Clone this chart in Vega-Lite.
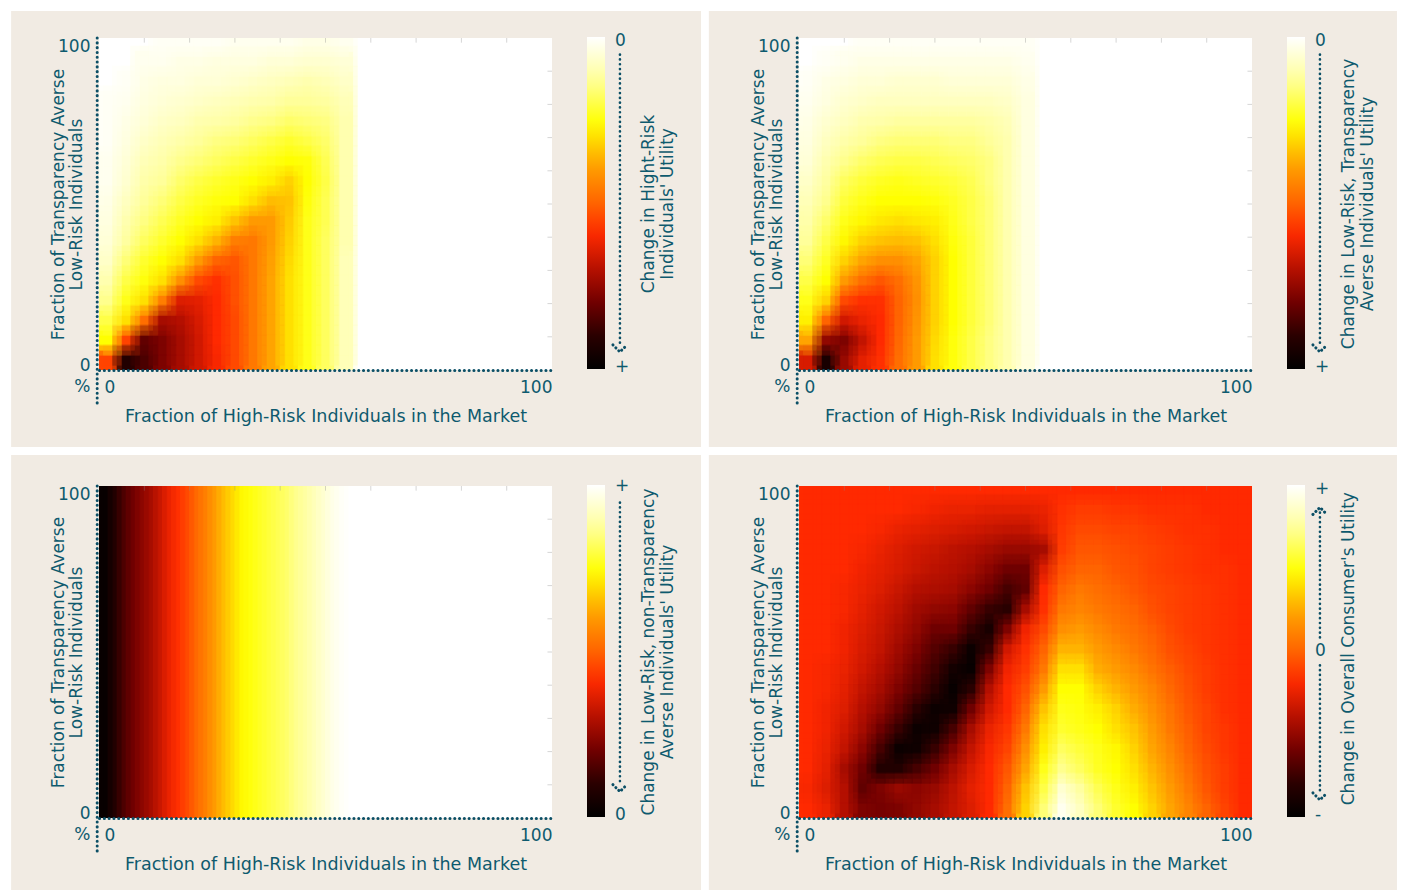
{"$schema":"https://vega.github.io/schema/vega-lite/v6.json","padding":{"left":11,"top":11,"right":0,"bottom":0},"background":"white","columns":2,"spacing":{"row":7,"column":6},"resolve":{"scale":{"color":"independent"},"legend":{"color":"independent"}},
"config":{"view":{"stroke":null},"font":"DejaVu Sans","axis":{"labelFont":"DejaVu Sans","titleFont":"DejaVu Sans","labelFontSize":17,"titleFontSize":17,"titleFontWeight":"normal","labelColor":"#0e5a6e","titleColor":"#0e5a6e","ticks":false,"grid":false,"labelFlush":true,"domainColor":"#0b4f66","domainDash":[0.1,4.7],"domainCap":"round","domainWidth":3}},
"datasets":{"t":[{"t":10},{"t":20},{"t":30},{"t":40},{"t":50},{"t":60},{"t":70},{"t":80},{"t":90}],
"p1":[{"x":2,"y":3,"v":45},{"x":2,"y":9,"v":74},{"x":2,"y":15,"v":80},{"x":2,"y":21,"v":86},{"x":2,"y":27,"v":90},{"x":2,"y":33,"v":93},{"x":2,"y":39,"v":95},{"x":2,"y":45,"v":96},{"x":2,"y":51,"v":97},{"x":2,"y":57,"v":98},{"x":2,"y":63,"v":98},{"x":2,"y":69,"v":99},{"x":2,"y":75,"v":99},{"x":2,"y":81,"v":99},
{"x":6,"y":3,"v":8},{"x":6,"y":9,"v":45},{"x":6,"y":15,"v":70},{"x":6,"y":21,"v":76},{"x":6,"y":27,"v":80},{"x":6,"y":33,"v":84},{"x":6,"y":39,"v":88},{"x":6,"y":45,"v":90},{"x":6,"y":51,"v":92},{"x":6,"y":57,"v":94},{"x":6,"y":63,"v":95},{"x":6,"y":69,"v":96},{"x":6,"y":75,"v":97},{"x":6,"y":81,"v":98},{"x":6,"y":87,"v":99},
{"x":10,"y":3,"v":15},{"x":10,"y":9,"v":18},{"x":10,"y":15,"v":52},{"x":10,"y":21,"v":70},{"x":10,"y":27,"v":75},{"x":10,"y":33,"v":78},{"x":10,"y":39,"v":82},{"x":10,"y":45,"v":85},{"x":10,"y":51,"v":87},{"x":10,"y":57,"v":89},{"x":10,"y":63,"v":91},{"x":10,"y":69,"v":93},{"x":10,"y":75,"v":95},{"x":10,"y":81,"v":96},{"x":10,"y":87,"v":97},{"x":10,"y":93,"v":98},
{"x":14,"y":3,"v":22},{"x":14,"y":9,"v":22},{"x":14,"y":15,"v":28},{"x":14,"y":21,"v":55},{"x":14,"y":27,"v":70},{"x":14,"y":33,"v":74},{"x":14,"y":39,"v":78},{"x":14,"y":45,"v":81},{"x":14,"y":51,"v":84},{"x":14,"y":57,"v":87},{"x":14,"y":63,"v":89},{"x":14,"y":69,"v":91},{"x":14,"y":75,"v":93},{"x":14,"y":81,"v":95},{"x":14,"y":87,"v":96},{"x":14,"y":93,"v":98},{"x":14,"y":99,"v":99},
{"x":18,"y":3,"v":28},{"x":18,"y":9,"v":28},{"x":18,"y":15,"v":30},{"x":18,"y":21,"v":36},{"x":18,"y":27,"v":58},{"x":18,"y":33,"v":70},{"x":18,"y":39,"v":74},{"x":18,"y":45,"v":77},{"x":18,"y":51,"v":80},{"x":18,"y":57,"v":83},{"x":18,"y":63,"v":86},{"x":18,"y":69,"v":89},{"x":18,"y":75,"v":92},{"x":18,"y":81,"v":94},{"x":18,"y":87,"v":96},{"x":18,"y":93,"v":97},{"x":18,"y":99,"v":99},
{"x":22,"y":3,"v":34},{"x":22,"y":9,"v":34},{"x":22,"y":15,"v":35},{"x":22,"y":21,"v":37},{"x":22,"y":27,"v":46},{"x":22,"y":33,"v":60},{"x":22,"y":39,"v":70},{"x":22,"y":45,"v":74},{"x":22,"y":51,"v":77},{"x":22,"y":57,"v":80},{"x":22,"y":63,"v":84},{"x":22,"y":69,"v":87},{"x":22,"y":75,"v":90},{"x":22,"y":81,"v":93},{"x":22,"y":87,"v":95},{"x":22,"y":93,"v":97},{"x":22,"y":99,"v":99},
{"x":26,"y":3,"v":40},{"x":26,"y":9,"v":41},{"x":26,"y":15,"v":41},{"x":26,"y":21,"v":41},{"x":26,"y":27,"v":42},{"x":26,"y":33,"v":50},{"x":26,"y":39,"v":64},{"x":26,"y":45,"v":72},{"x":26,"y":51,"v":75},{"x":26,"y":57,"v":78},{"x":26,"y":63,"v":82},{"x":26,"y":69,"v":85},{"x":26,"y":75,"v":89},{"x":26,"y":81,"v":92},{"x":26,"y":87,"v":95},{"x":26,"y":93,"v":96},{"x":26,"y":99,"v":99},
{"x":30,"y":3,"v":46},{"x":30,"y":9,"v":46},{"x":30,"y":15,"v":46},{"x":30,"y":21,"v":47},{"x":30,"y":27,"v":47},{"x":30,"y":33,"v":48},{"x":30,"y":39,"v":55},{"x":30,"y":45,"v":66},{"x":30,"y":51,"v":74},{"x":30,"y":57,"v":76},{"x":30,"y":63,"v":80},{"x":30,"y":69,"v":84},{"x":30,"y":75,"v":88},{"x":30,"y":81,"v":91},{"x":30,"y":87,"v":94},{"x":30,"y":93,"v":96},{"x":30,"y":99,"v":98},
{"x":34,"y":3,"v":54},{"x":34,"y":9,"v":54},{"x":34,"y":15,"v":54},{"x":34,"y":21,"v":54},{"x":34,"y":27,"v":54},{"x":34,"y":33,"v":54},{"x":34,"y":39,"v":54},{"x":34,"y":45,"v":60},{"x":34,"y":51,"v":70},{"x":34,"y":57,"v":74},{"x":34,"y":63,"v":78},{"x":34,"y":69,"v":82},{"x":34,"y":75,"v":86},{"x":34,"y":81,"v":90},{"x":34,"y":87,"v":93},{"x":34,"y":93,"v":96},{"x":34,"y":99,"v":98},
{"x":38,"y":3,"v":62},{"x":38,"y":9,"v":62},{"x":38,"y":15,"v":62},{"x":38,"y":21,"v":62},{"x":38,"y":27,"v":62},{"x":38,"y":33,"v":61},{"x":38,"y":39,"v":60},{"x":38,"y":45,"v":60},{"x":38,"y":51,"v":65},{"x":38,"y":57,"v":72},{"x":38,"y":63,"v":76},{"x":38,"y":69,"v":80},{"x":38,"y":75,"v":85},{"x":38,"y":81,"v":89},{"x":38,"y":87,"v":92},{"x":38,"y":93,"v":95},{"x":38,"y":99,"v":98},
{"x":42,"y":3,"v":70},{"x":42,"y":9,"v":70},{"x":42,"y":15,"v":70},{"x":42,"y":21,"v":70},{"x":42,"y":27,"v":70},{"x":42,"y":33,"v":69},{"x":42,"y":39,"v":68},{"x":42,"y":45,"v":67},{"x":42,"y":51,"v":66},{"x":42,"y":57,"v":68},{"x":42,"y":63,"v":74},{"x":42,"y":69,"v":78},{"x":42,"y":75,"v":83},{"x":42,"y":81,"v":87},{"x":42,"y":87,"v":91},{"x":42,"y":93,"v":95},{"x":42,"y":99,"v":98},
{"x":46,"y":3,"v":76},{"x":46,"y":9,"v":76},{"x":46,"y":15,"v":76},{"x":46,"y":21,"v":76},{"x":46,"y":27,"v":76},{"x":46,"y":33,"v":76},{"x":46,"y":39,"v":76},{"x":46,"y":45,"v":76},{"x":46,"y":51,"v":75},{"x":46,"y":57,"v":74},{"x":46,"y":63,"v":75},{"x":46,"y":69,"v":80},{"x":46,"y":75,"v":84},{"x":46,"y":81,"v":87},{"x":46,"y":87,"v":90},{"x":46,"y":93,"v":94},{"x":46,"y":99,"v":97},
{"x":50,"y":3,"v":82},{"x":50,"y":9,"v":82},{"x":50,"y":15,"v":82},{"x":50,"y":21,"v":82},{"x":50,"y":27,"v":82},{"x":50,"y":33,"v":82},{"x":50,"y":39,"v":82},{"x":50,"y":45,"v":81},{"x":50,"y":51,"v":81},{"x":50,"y":57,"v":80},{"x":50,"y":63,"v":81},{"x":50,"y":69,"v":83},{"x":50,"y":75,"v":85},{"x":50,"y":81,"v":88},{"x":50,"y":87,"v":91},{"x":50,"y":93,"v":94},{"x":50,"y":99,"v":97},
{"x":54,"y":3,"v":91},{"x":54,"y":9,"v":91},{"x":54,"y":15,"v":91},{"x":54,"y":21,"v":91},{"x":54,"y":27,"v":91},{"x":54,"y":33,"v":91},{"x":54,"y":39,"v":90},{"x":54,"y":45,"v":90},{"x":54,"y":51,"v":90},{"x":54,"y":57,"v":90},{"x":54,"y":63,"v":90},{"x":54,"y":69,"v":90},{"x":54,"y":75,"v":90},{"x":54,"y":81,"v":91},{"x":54,"y":87,"v":93},{"x":54,"y":93,"v":95},{"x":54,"y":99,"v":98}],
"p2":[{"x":2,"y":3,"v":35},{"x":2,"y":9,"v":62},{"x":2,"y":15,"v":72},{"x":2,"y":21,"v":76},{"x":2,"y":27,"v":80},{"x":2,"y":33,"v":84},{"x":2,"y":39,"v":87},{"x":2,"y":45,"v":89},{"x":2,"y":51,"v":91},{"x":2,"y":57,"v":93},{"x":2,"y":63,"v":95},{"x":2,"y":69,"v":96},{"x":2,"y":75,"v":97},{"x":2,"y":81,"v":98},{"x":2,"y":87,"v":99},
{"x":6,"y":3,"v":6},{"x":6,"y":9,"v":25},{"x":6,"y":15,"v":50},{"x":6,"y":21,"v":68},{"x":6,"y":27,"v":74},{"x":6,"y":33,"v":77},{"x":6,"y":39,"v":80},{"x":6,"y":45,"v":83},{"x":6,"y":51,"v":86},{"x":6,"y":57,"v":88},{"x":6,"y":63,"v":90},{"x":6,"y":69,"v":92},{"x":6,"y":75,"v":94},{"x":6,"y":81,"v":96},{"x":6,"y":87,"v":97},{"x":6,"y":93,"v":99},
{"x":10,"y":3,"v":26},{"x":10,"y":9,"v":22},{"x":10,"y":15,"v":34},{"x":10,"y":21,"v":46},{"x":10,"y":27,"v":60},{"x":10,"y":33,"v":68},{"x":10,"y":39,"v":73},{"x":10,"y":45,"v":76},{"x":10,"y":51,"v":79},{"x":10,"y":57,"v":82},{"x":10,"y":63,"v":86},{"x":10,"y":69,"v":89},{"x":10,"y":75,"v":92},{"x":10,"y":81,"v":94},{"x":10,"y":87,"v":96},{"x":10,"y":93,"v":98},
{"x":14,"y":3,"v":37},{"x":14,"y":9,"v":32},{"x":14,"y":15,"v":38},{"x":14,"y":21,"v":42},{"x":14,"y":27,"v":52},{"x":14,"y":33,"v":62},{"x":14,"y":39,"v":68},{"x":14,"y":45,"v":73},{"x":14,"y":51,"v":76},{"x":14,"y":57,"v":79},{"x":14,"y":63,"v":83},{"x":14,"y":69,"v":87},{"x":14,"y":75,"v":90},{"x":14,"y":81,"v":93},{"x":14,"y":87,"v":95},{"x":14,"y":93,"v":97},{"x":14,"y":99,"v":99},
{"x":18,"y":3,"v":42},{"x":18,"y":9,"v":41},{"x":18,"y":15,"v":41},{"x":18,"y":21,"v":42},{"x":18,"y":27,"v":48},{"x":18,"y":33,"v":58},{"x":18,"y":39,"v":66},{"x":18,"y":45,"v":71},{"x":18,"y":51,"v":74},{"x":18,"y":57,"v":77},{"x":18,"y":63,"v":81},{"x":18,"y":69,"v":85},{"x":18,"y":75,"v":89},{"x":18,"y":81,"v":92},{"x":18,"y":87,"v":95},{"x":18,"y":93,"v":97},{"x":18,"y":99,"v":99},
{"x":22,"y":3,"v":52},{"x":22,"y":9,"v":51},{"x":22,"y":15,"v":50},{"x":22,"y":21,"v":50},{"x":22,"y":27,"v":52},{"x":22,"y":33,"v":58},{"x":22,"y":39,"v":65},{"x":22,"y":45,"v":70},{"x":22,"y":51,"v":74},{"x":22,"y":57,"v":76},{"x":22,"y":63,"v":80},{"x":22,"y":69,"v":84},{"x":22,"y":75,"v":88},{"x":22,"y":81,"v":92},{"x":22,"y":87,"v":94},{"x":22,"y":93,"v":97},{"x":22,"y":99,"v":99},
{"x":26,"y":3,"v":60},{"x":26,"y":9,"v":60},{"x":26,"y":15,"v":59},{"x":26,"y":21,"v":58},{"x":26,"y":27,"v":59},{"x":26,"y":33,"v":62},{"x":26,"y":39,"v":66},{"x":26,"y":45,"v":71},{"x":26,"y":51,"v":74},{"x":26,"y":57,"v":77},{"x":26,"y":63,"v":80},{"x":26,"y":69,"v":84},{"x":26,"y":75,"v":88},{"x":26,"y":81,"v":92},{"x":26,"y":87,"v":94},{"x":26,"y":93,"v":97},{"x":26,"y":99,"v":99},
{"x":30,"y":3,"v":70},{"x":30,"y":9,"v":69},{"x":30,"y":15,"v":68},{"x":30,"y":21,"v":68},{"x":30,"y":27,"v":68},{"x":30,"y":33,"v":68},{"x":30,"y":39,"v":70},{"x":30,"y":45,"v":72},{"x":30,"y":51,"v":75},{"x":30,"y":57,"v":78},{"x":30,"y":63,"v":81},{"x":30,"y":69,"v":84},{"x":30,"y":75,"v":88},{"x":30,"y":81,"v":92},{"x":30,"y":87,"v":94},{"x":30,"y":93,"v":97},{"x":30,"y":99,"v":99},
{"x":34,"y":3,"v":75},{"x":34,"y":9,"v":75},{"x":34,"y":15,"v":74},{"x":34,"y":21,"v":74},{"x":34,"y":27,"v":74},{"x":34,"y":33,"v":74},{"x":34,"y":39,"v":75},{"x":34,"y":45,"v":76},{"x":34,"y":51,"v":77},{"x":34,"y":57,"v":79},{"x":34,"y":63,"v":82},{"x":34,"y":69,"v":85},{"x":34,"y":75,"v":88},{"x":34,"y":81,"v":92},{"x":34,"y":87,"v":95},{"x":34,"y":93,"v":97},{"x":34,"y":99,"v":99},
{"x":38,"y":3,"v":80},{"x":38,"y":9,"v":80},{"x":38,"y":15,"v":79},{"x":38,"y":21,"v":79},{"x":38,"y":27,"v":79},{"x":38,"y":33,"v":79},{"x":38,"y":39,"v":79},{"x":38,"y":45,"v":80},{"x":38,"y":51,"v":80},{"x":38,"y":57,"v":81},{"x":38,"y":63,"v":83},{"x":38,"y":69,"v":85},{"x":38,"y":75,"v":88},{"x":38,"y":81,"v":92},{"x":38,"y":87,"v":95},{"x":38,"y":93,"v":97},{"x":38,"y":99,"v":99},
{"x":42,"y":3,"v":85},{"x":42,"y":9,"v":85},{"x":42,"y":15,"v":84},{"x":42,"y":21,"v":84},{"x":42,"y":27,"v":84},{"x":42,"y":33,"v":84},{"x":42,"y":39,"v":84},{"x":42,"y":45,"v":84},{"x":42,"y":51,"v":84},{"x":42,"y":57,"v":85},{"x":42,"y":63,"v":85},{"x":42,"y":69,"v":87},{"x":42,"y":75,"v":89},{"x":42,"y":81,"v":92},{"x":42,"y":87,"v":95},{"x":42,"y":93,"v":97},{"x":42,"y":99,"v":99},
{"x":46,"y":3,"v":90},{"x":46,"y":9,"v":90},{"x":46,"y":15,"v":90},{"x":46,"y":21,"v":90},{"x":46,"y":27,"v":90},{"x":46,"y":33,"v":90},{"x":46,"y":39,"v":90},{"x":46,"y":45,"v":90},{"x":46,"y":51,"v":90},{"x":46,"y":57,"v":90},{"x":46,"y":63,"v":90},{"x":46,"y":69,"v":90},{"x":46,"y":75,"v":91},{"x":46,"y":81,"v":93},{"x":46,"y":87,"v":95},{"x":46,"y":93,"v":97},{"x":46,"y":99,"v":99},
{"x":50,"y":3,"v":96},{"x":50,"y":9,"v":96},{"x":50,"y":15,"v":96},{"x":50,"y":21,"v":96},{"x":50,"y":27,"v":96},{"x":50,"y":33,"v":96},{"x":50,"y":39,"v":96},{"x":50,"y":45,"v":96},{"x":50,"y":51,"v":96},{"x":50,"y":57,"v":96},{"x":50,"y":63,"v":96},{"x":50,"y":69,"v":96},{"x":50,"y":75,"v":96},{"x":50,"y":81,"v":96},{"x":50,"y":87,"v":97},{"x":50,"y":93,"v":98},{"x":50,"y":99,"v":99}],
"p3":[{"x":1,"v":2},{"x":3,"v":8},{"x":5,"v":15},{"x":7,"v":20},{"x":9,"v":24},{"x":11,"v":28},{"x":13,"v":33},{"x":15,"v":38},{"x":17,"v":42},{"x":19,"v":46},{"x":21,"v":51},{"x":23,"v":55},{"x":25,"v":60},{"x":27,"v":65},{"x":29,"v":69},{"x":31,"v":73},{"x":33,"v":75},{"x":35,"v":77},{"x":37,"v":79},{"x":39,"v":81},{"x":41,"v":83},{"x":43,"v":86},{"x":45,"v":88},{"x":47,"v":91},{"x":49,"v":94},{"x":51,"v":97},{"x":53,"v":99}],
"p4":[{"x":2,"y":3,"v":41},{"x":6,"y":3,"v":38},{"x":10,"y":3,"v":30},{"x":14,"y":3,"v":22},{"x":18,"y":3,"v":21},{"x":22,"y":3,"v":22},{"x":26,"y":3,"v":25},{"x":30,"y":3,"v":28},{"x":34,"y":3,"v":32},{"x":38,"y":3,"v":36},{"x":42,"y":3,"v":41},{"x":46,"y":3,"v":52},{"x":50,"y":3,"v":68},{"x":54,"y":3,"v":84},{"x":58,"y":3,"v":98},{"x":62,"y":3,"v":92},{"x":66,"y":3,"v":84},{"x":70,"y":3,"v":78},{"x":74,"y":3,"v":74},{"x":78,"y":3,"v":68},{"x":82,"y":3,"v":62},{"x":86,"y":3,"v":56},{"x":90,"y":3,"v":50},{"x":94,"y":3,"v":45},{"x":98,"y":3,"v":41},
{"x":2,"y":9,"v":40},{"x":6,"y":9,"v":36},{"x":10,"y":9,"v":30},{"x":14,"y":9,"v":18},{"x":18,"y":9,"v":22},{"x":22,"y":9,"v":26},{"x":26,"y":9,"v":24},{"x":30,"y":9,"v":26},{"x":34,"y":9,"v":31},{"x":38,"y":9,"v":37},{"x":42,"y":9,"v":41},{"x":46,"y":9,"v":50},{"x":50,"y":9,"v":66},{"x":54,"y":9,"v":80},{"x":58,"y":9,"v":94},{"x":62,"y":9,"v":88},{"x":66,"y":9,"v":81},{"x":70,"y":9,"v":76},{"x":74,"y":9,"v":72},{"x":78,"y":9,"v":66},{"x":82,"y":9,"v":60},{"x":86,"y":9,"v":54},{"x":90,"y":9,"v":48},{"x":94,"y":9,"v":44},{"x":98,"y":9,"v":41},
{"x":2,"y":15,"v":41},{"x":6,"y":15,"v":37},{"x":10,"y":15,"v":28},{"x":14,"y":15,"v":20},{"x":18,"y":15,"v":8},{"x":22,"y":15,"v":8},{"x":26,"y":15,"v":14},{"x":30,"y":15,"v":20},{"x":34,"y":15,"v":28},{"x":38,"y":15,"v":35},{"x":42,"y":15,"v":41},{"x":46,"y":15,"v":48},{"x":50,"y":15,"v":62},{"x":54,"y":15,"v":76},{"x":58,"y":15,"v":86},{"x":62,"y":15,"v":82},{"x":66,"y":15,"v":77},{"x":70,"y":15,"v":74},{"x":74,"y":15,"v":70},{"x":78,"y":15,"v":64},{"x":82,"y":15,"v":58},{"x":86,"y":15,"v":52},{"x":90,"y":15,"v":47},{"x":94,"y":15,"v":44},{"x":98,"y":15,"v":41},
{"x":2,"y":21,"v":41},{"x":6,"y":21,"v":38},{"x":10,"y":21,"v":32},{"x":14,"y":21,"v":24},{"x":18,"y":21,"v":14},{"x":22,"y":21,"v":3},{"x":26,"y":21,"v":4},{"x":30,"y":21,"v":12},{"x":34,"y":21,"v":22},{"x":38,"y":21,"v":32},{"x":42,"y":21,"v":40},{"x":46,"y":21,"v":45},{"x":50,"y":21,"v":58},{"x":54,"y":21,"v":72},{"x":58,"y":21,"v":82},{"x":62,"y":21,"v":79},{"x":66,"y":21,"v":76},{"x":70,"y":21,"v":73},{"x":74,"y":21,"v":68},{"x":78,"y":21,"v":62},{"x":82,"y":21,"v":56},{"x":86,"y":21,"v":50},{"x":90,"y":21,"v":46},{"x":94,"y":21,"v":43},{"x":98,"y":21,"v":41},
{"x":2,"y":27,"v":41},{"x":6,"y":27,"v":39},{"x":10,"y":27,"v":34},{"x":14,"y":27,"v":28},{"x":18,"y":27,"v":20},{"x":22,"y":27,"v":12},{"x":26,"y":27,"v":3},{"x":30,"y":27,"v":4},{"x":34,"y":27,"v":14},{"x":38,"y":27,"v":28},{"x":42,"y":27,"v":38},{"x":46,"y":27,"v":43},{"x":50,"y":27,"v":54},{"x":54,"y":27,"v":70},{"x":58,"y":27,"v":78},{"x":62,"y":27,"v":76},{"x":66,"y":27,"v":74},{"x":70,"y":27,"v":70},{"x":74,"y":27,"v":66},{"x":78,"y":27,"v":60},{"x":82,"y":27,"v":54},{"x":86,"y":27,"v":49},{"x":90,"y":27,"v":45},{"x":94,"y":27,"v":43},{"x":98,"y":27,"v":41},
{"x":2,"y":33,"v":41},{"x":6,"y":33,"v":39},{"x":10,"y":33,"v":36},{"x":14,"y":33,"v":30},{"x":18,"y":33,"v":25},{"x":22,"y":33,"v":18},{"x":26,"y":33,"v":10},{"x":30,"y":33,"v":3},{"x":34,"y":33,"v":4},{"x":38,"y":33,"v":20},{"x":42,"y":33,"v":34},{"x":46,"y":33,"v":41},{"x":50,"y":33,"v":50},{"x":54,"y":33,"v":66},{"x":58,"y":33,"v":76},{"x":62,"y":33,"v":75},{"x":66,"y":33,"v":72},{"x":70,"y":33,"v":68},{"x":74,"y":33,"v":63},{"x":78,"y":33,"v":58},{"x":82,"y":33,"v":53},{"x":86,"y":33,"v":48},{"x":90,"y":33,"v":45},{"x":94,"y":33,"v":42},{"x":98,"y":33,"v":41},
{"x":2,"y":39,"v":41},{"x":6,"y":39,"v":40},{"x":10,"y":39,"v":37},{"x":14,"y":39,"v":32},{"x":18,"y":39,"v":28},{"x":22,"y":39,"v":22},{"x":26,"y":39,"v":16},{"x":30,"y":39,"v":10},{"x":34,"y":39,"v":2},{"x":38,"y":39,"v":10},{"x":42,"y":39,"v":30},{"x":46,"y":39,"v":41},{"x":50,"y":39,"v":47},{"x":54,"y":39,"v":60},{"x":58,"y":39,"v":74},{"x":62,"y":39,"v":74},{"x":66,"y":39,"v":68},{"x":70,"y":39,"v":64},{"x":74,"y":39,"v":60},{"x":78,"y":39,"v":56},{"x":82,"y":39,"v":51},{"x":86,"y":39,"v":47},{"x":90,"y":39,"v":44},{"x":94,"y":39,"v":42},{"x":98,"y":39,"v":41},
{"x":2,"y":45,"v":41},{"x":6,"y":45,"v":40},{"x":10,"y":45,"v":38},{"x":14,"y":45,"v":34},{"x":18,"y":45,"v":30},{"x":22,"y":45,"v":25},{"x":26,"y":45,"v":19},{"x":30,"y":45,"v":13},{"x":34,"y":45,"v":5},{"x":38,"y":45,"v":2},{"x":42,"y":45,"v":22},{"x":46,"y":45,"v":39},{"x":50,"y":45,"v":44},{"x":54,"y":45,"v":54},{"x":58,"y":45,"v":70},{"x":62,"y":45,"v":70},{"x":66,"y":45,"v":63},{"x":70,"y":45,"v":60},{"x":74,"y":45,"v":57},{"x":78,"y":45,"v":53},{"x":82,"y":45,"v":49},{"x":86,"y":45,"v":46},{"x":90,"y":45,"v":44},{"x":94,"y":45,"v":42},{"x":98,"y":45,"v":41},
{"x":2,"y":51,"v":41},{"x":6,"y":51,"v":41},{"x":10,"y":51,"v":39},{"x":14,"y":51,"v":35},{"x":18,"y":51,"v":32},{"x":22,"y":51,"v":27},{"x":26,"y":51,"v":22},{"x":30,"y":51,"v":16},{"x":34,"y":51,"v":12},{"x":38,"y":51,"v":3},{"x":42,"y":51,"v":12},{"x":46,"y":51,"v":34},{"x":50,"y":51,"v":42},{"x":54,"y":51,"v":50},{"x":58,"y":51,"v":64},{"x":62,"y":51,"v":64},{"x":66,"y":51,"v":60},{"x":70,"y":51,"v":57},{"x":74,"y":51,"v":54},{"x":78,"y":51,"v":51},{"x":82,"y":51,"v":47},{"x":86,"y":51,"v":45},{"x":90,"y":51,"v":43},{"x":94,"y":51,"v":42},{"x":98,"y":51,"v":41},
{"x":2,"y":57,"v":41},{"x":6,"y":57,"v":41},{"x":10,"y":57,"v":39},{"x":14,"y":57,"v":36},{"x":18,"y":57,"v":33},{"x":22,"y":57,"v":29},{"x":26,"y":57,"v":25},{"x":30,"y":57,"v":20},{"x":34,"y":57,"v":20},{"x":38,"y":57,"v":12},{"x":42,"y":57,"v":6},{"x":46,"y":57,"v":22},{"x":50,"y":57,"v":39},{"x":54,"y":57,"v":46},{"x":58,"y":57,"v":58},{"x":62,"y":57,"v":60},{"x":66,"y":57,"v":57},{"x":70,"y":57,"v":54},{"x":74,"y":57,"v":52},{"x":78,"y":57,"v":49},{"x":82,"y":57,"v":46},{"x":86,"y":57,"v":44},{"x":90,"y":57,"v":43},{"x":94,"y":57,"v":42},{"x":98,"y":57,"v":41},
{"x":2,"y":63,"v":41},{"x":6,"y":63,"v":41},{"x":10,"y":63,"v":40},{"x":14,"y":63,"v":37},{"x":18,"y":63,"v":34},{"x":22,"y":63,"v":31},{"x":26,"y":63,"v":27},{"x":30,"y":63,"v":25},{"x":34,"y":63,"v":24},{"x":38,"y":63,"v":18},{"x":42,"y":63,"v":12},{"x":46,"y":63,"v":10},{"x":50,"y":63,"v":28},{"x":54,"y":63,"v":42},{"x":58,"y":63,"v":54},{"x":62,"y":63,"v":56},{"x":66,"y":63,"v":54},{"x":70,"y":63,"v":52},{"x":74,"y":63,"v":50},{"x":78,"y":63,"v":47},{"x":82,"y":63,"v":45},{"x":86,"y":63,"v":44},{"x":90,"y":63,"v":43},{"x":94,"y":63,"v":42},{"x":98,"y":63,"v":41},
{"x":2,"y":69,"v":41},{"x":6,"y":69,"v":41},{"x":10,"y":69,"v":40},{"x":14,"y":69,"v":38},{"x":18,"y":69,"v":36},{"x":22,"y":69,"v":33},{"x":26,"y":69,"v":30},{"x":30,"y":69,"v":29},{"x":34,"y":69,"v":28},{"x":38,"y":69,"v":24},{"x":42,"y":69,"v":20},{"x":46,"y":69,"v":14},{"x":50,"y":69,"v":18},{"x":54,"y":69,"v":41},{"x":58,"y":69,"v":50},{"x":62,"y":69,"v":54},{"x":66,"y":69,"v":52},{"x":70,"y":69,"v":50},{"x":74,"y":69,"v":48},{"x":78,"y":69,"v":46},{"x":82,"y":69,"v":45},{"x":86,"y":69,"v":44},{"x":90,"y":69,"v":43},{"x":94,"y":69,"v":42},{"x":98,"y":69,"v":41},
{"x":2,"y":75,"v":41},{"x":6,"y":75,"v":41},{"x":10,"y":75,"v":41},{"x":14,"y":75,"v":39},{"x":18,"y":75,"v":37},{"x":22,"y":75,"v":35},{"x":26,"y":75,"v":33},{"x":30,"y":75,"v":31},{"x":34,"y":75,"v":30},{"x":38,"y":75,"v":28},{"x":42,"y":75,"v":24},{"x":46,"y":75,"v":20},{"x":50,"y":75,"v":20},{"x":54,"y":75,"v":36},{"x":58,"y":75,"v":47},{"x":62,"y":75,"v":50},{"x":66,"y":75,"v":50},{"x":70,"y":75,"v":48},{"x":74,"y":75,"v":47},{"x":78,"y":75,"v":45},{"x":82,"y":75,"v":44},{"x":86,"y":75,"v":43},{"x":90,"y":75,"v":42},{"x":94,"y":75,"v":42},{"x":98,"y":75,"v":41},
{"x":2,"y":81,"v":41},{"x":6,"y":81,"v":41},{"x":10,"y":81,"v":41},{"x":14,"y":81,"v":40},{"x":18,"y":81,"v":38},{"x":22,"y":81,"v":36},{"x":26,"y":81,"v":34},{"x":30,"y":81,"v":33},{"x":34,"y":81,"v":31},{"x":38,"y":81,"v":30},{"x":42,"y":81,"v":28},{"x":46,"y":81,"v":26},{"x":50,"y":81,"v":26},{"x":54,"y":81,"v":28},{"x":58,"y":81,"v":44},{"x":62,"y":81,"v":48},{"x":66,"y":81,"v":48},{"x":70,"y":81,"v":47},{"x":74,"y":81,"v":46},{"x":78,"y":81,"v":45},{"x":82,"y":81,"v":44},{"x":86,"y":81,"v":43},{"x":90,"y":81,"v":42},{"x":94,"y":81,"v":41},{"x":98,"y":81,"v":41},
{"x":2,"y":87,"v":41},{"x":6,"y":87,"v":41},{"x":10,"y":87,"v":41},{"x":14,"y":87,"v":41},{"x":18,"y":87,"v":40},{"x":22,"y":87,"v":38},{"x":26,"y":87,"v":37},{"x":30,"y":87,"v":36},{"x":34,"y":87,"v":35},{"x":38,"y":87,"v":34},{"x":42,"y":87,"v":33},{"x":46,"y":87,"v":32},{"x":50,"y":87,"v":32},{"x":54,"y":87,"v":36},{"x":58,"y":87,"v":43},{"x":62,"y":87,"v":46},{"x":66,"y":87,"v":46},{"x":70,"y":87,"v":45},{"x":74,"y":87,"v":45},{"x":78,"y":87,"v":44},{"x":82,"y":87,"v":43},{"x":86,"y":87,"v":42},{"x":90,"y":87,"v":42},{"x":94,"y":87,"v":41},{"x":98,"y":87,"v":41},
{"x":2,"y":93,"v":41},{"x":6,"y":93,"v":41},{"x":10,"y":93,"v":41},{"x":14,"y":93,"v":41},{"x":18,"y":93,"v":41},{"x":22,"y":93,"v":41},{"x":26,"y":93,"v":40},{"x":30,"y":93,"v":39},{"x":34,"y":93,"v":38},{"x":38,"y":93,"v":38},{"x":42,"y":93,"v":37},{"x":46,"y":93,"v":37},{"x":50,"y":93,"v":37},{"x":54,"y":93,"v":38},{"x":58,"y":93,"v":42},{"x":62,"y":93,"v":44},{"x":66,"y":93,"v":44},{"x":70,"y":93,"v":43},{"x":74,"y":93,"v":43},{"x":78,"y":93,"v":42},{"x":82,"y":93,"v":42},{"x":86,"y":93,"v":42},{"x":90,"y":93,"v":41},{"x":94,"y":93,"v":41},{"x":98,"y":93,"v":41},
{"x":2,"y":99,"v":41},{"x":6,"y":99,"v":41},{"x":10,"y":99,"v":41},{"x":14,"y":99,"v":41},{"x":18,"y":99,"v":41},{"x":22,"y":99,"v":41},{"x":26,"y":99,"v":41},{"x":30,"y":99,"v":41},{"x":34,"y":99,"v":41},{"x":38,"y":99,"v":41},{"x":42,"y":99,"v":41},{"x":46,"y":99,"v":41},{"x":50,"y":99,"v":41},{"x":54,"y":99,"v":41},{"x":58,"y":99,"v":41},{"x":62,"y":99,"v":41},{"x":66,"y":99,"v":41},{"x":70,"y":99,"v":41},{"x":74,"y":99,"v":41},{"x":78,"y":99,"v":41},{"x":82,"y":99,"v":41},{"x":86,"y":99,"v":41},{"x":90,"y":99,"v":41},{"x":94,"y":99,"v":41},{"x":98,"y":99,"v":41}]},
"concat":[
{"width":453,"height":332,"data":{"values":[{"a":1}]},"layer":[
{"mark":{"type":"rect","color":"#f1ebe3"},"encoding":{"x":{"datum":-19.4},"x2":{"datum":132.9},"y":{"datum":108.1},"y2":{"datum":-23.2}}},
{"mark":{"type":"rect","color":"white"},"encoding":{"x":{"datum":0,"scale":{"domain":[0,100]},"axis":{"zindex":1,"values":[2.3,100],"labelExpr":"datum.value>50?'100':'0'","labelPadding":9,"title":"Fraction of High-Risk Individuals in the Market","titleFontSize":17.5,"titleY":46,"titleBaseline":"middle"}},"x2":{"datum":100},"y":{"datum":0,"scale":{"domain":[0,100]},"axis":{"zindex":1,"values":[1.5,100],"labelExpr":"datum.value>50?'100':'0'","domain":false,"labelPadding":9,"title":["Fraction of Transparency Averse","Low-Risk Individuals"],"titleX":-41,"titleLineHeight":18,"titleBaseline":"middle"}},"y2":{"datum":100}}},
{"data":{"name":"p1"},"mark":{"type":"rect","width":19,"height":21,"clip":true},"encoding":{"x":{"field":"x","type":"quantitative"},"y":{"field":"y","type":"quantitative"},"color":{"field":"v","type":"quantitative","scale":{"domain":[0,10,20,30,41,50,62,74,87,100],"range":["#000000","#2a0000","#700000","#b51000","#ff2a00","#ff6400","#ffa500","#ffff00","#ffff9a","#ffffff"],"interpolate":"rgb"},"legend":{"orient":"none","legendX":488,"legendY":-1,"title":null,"direction":"vertical","gradientLength":332,"gradientThickness":18,"values":[0.5,98.8],"labelExpr":"datum.value>50?'0':'+'","labelFont":"DejaVu Sans","labelFontSize":17,"labelColor":"#0e5a6e","labelOffset":10}}}},
{"data":{"name":"p1"},"mark":{"type":"rect","width":19,"height":21,"clip":true,"xOffset":-4.5,"yOffset":-5,"opacity":0.5},"encoding":{"x":{"field":"x","type":"quantitative"},"y":{"field":"y","type":"quantitative"},"color":{"field":"v","type":"quantitative","legend":null}}},
{"data":{"name":"p1"},"mark":{"type":"rect","width":19,"height":21,"clip":true,"xOffset":4.5,"yOffset":-5,"opacity":0.33},"encoding":{"x":{"field":"x","type":"quantitative"},"y":{"field":"y","type":"quantitative"},"color":{"field":"v","type":"quantitative","legend":null}}},
{"data":{"name":"p1"},"mark":{"type":"rect","width":19,"height":21,"clip":true,"xOffset":-4.5,"yOffset":5,"opacity":0.25},"encoding":{"x":{"field":"x","type":"quantitative"},"y":{"field":"y","type":"quantitative"},"color":{"field":"v","type":"quantitative","legend":null}}},
{"data":{"name":"p1"},"mark":{"type":"rect","width":19,"height":21,"clip":true,"xOffset":4.5,"yOffset":5,"opacity":0.2},"encoding":{"x":{"field":"x","type":"quantitative"},"y":{"field":"y","type":"quantitative"},"color":{"field":"v","type":"quantitative","legend":null}}},
{"data":{"name":"t"},"mark":{"type":"rule","color":"#888","opacity":0.35},"encoding":{"x":{"field":"t","type":"quantitative"},"y":{"datum":100},"y2":{"datum":98.6}}},
{"data":{"name":"t"},"mark":{"type":"rule","color":"#888","opacity":0.35},"encoding":{"y":{"field":"t","type":"quantitative"},"x":{"datum":99},"x2":{"datum":100}}},
{"mark":{"type":"rule","strokeDash":[0.1,4.7],"strokeCap":"round","strokeWidth":3,"color":"#0b4f66"},"encoding":{"x":{"datum":-0.4},"y":{"datum":100},"y2":{"datum":-10.5}}},
{"mark":{"type":"rule","strokeDash":[0.1,4.7],"strokeCap":"round","strokeWidth":2.6,"color":"#0b4f66"},"encoding":{"x":{"datum":115},"y":{"datum":95},"y2":{"datum":7.5}}},
{"mark":{"type":"point","shape":"M-1,-.5L0,.5L1,-.5","filled":false,"size":196,"strokeDash":[0.1,4],"strokeCap":"round","strokeWidth":3,"color":"#0b4f66","opacity":1},"encoding":{"x":{"datum":115},"y":{"datum":6.5}}},
{"mark":{"type":"text","font":"DejaVu Sans","fontSize":17,"color":"#0e5a6e"},"encoding":{"x":{"datum":-3.7},"y":{"datum":-5.2},"text":{"value":"%"}}},
{"mark":{"type":"text","font":"DejaVu Sans","fontSize":17,"color":"#0e5a6e","angle":270,"lineHeight":19,"align":"center","baseline":"middle"},"encoding":{"x":{"datum":121.5},"y":{"datum":50},"text":{"value":["Change in Hight-Risk","Individuals' Utility"]}}}
]},
{"width":453,"height":332,"data":{"values":[{"a":1}]},"layer":[
{"mark":{"type":"rect","color":"#f1ebe3"},"encoding":{"x":{"datum":-19.9},"x2":{"datum":132},"y":{"datum":108.1},"y2":{"datum":-23.2}}},
{"mark":{"type":"rect","color":"white"},"encoding":{"x":{"datum":0,"scale":{"domain":[0,100]},"axis":{"zindex":1,"values":[2.3,100],"labelExpr":"datum.value>50?'100':'0'","labelPadding":9,"title":"Fraction of High-Risk Individuals in the Market","titleFontSize":17.5,"titleY":46,"titleBaseline":"middle"}},"x2":{"datum":100},"y":{"datum":0,"scale":{"domain":[0,100]},"axis":{"zindex":1,"values":[1.5,100],"labelExpr":"datum.value>50?'100':'0'","domain":false,"labelPadding":9,"title":["Fraction of Transparency Averse","Low-Risk Individuals"],"titleX":-41,"titleLineHeight":18,"titleBaseline":"middle"}},"y2":{"datum":100}}},
{"data":{"name":"p2"},"mark":{"type":"rect","width":19,"height":21,"clip":true},"encoding":{"x":{"field":"x","type":"quantitative"},"y":{"field":"y","type":"quantitative"},"color":{"field":"v","type":"quantitative","scale":{"domain":[0,10,20,30,41,50,62,74,87,100],"range":["#000000","#2a0000","#700000","#b51000","#ff2a00","#ff6400","#ffa500","#ffff00","#ffff9a","#ffffff"],"interpolate":"rgb"},"legend":{"orient":"none","legendX":488,"legendY":-1,"title":null,"direction":"vertical","gradientLength":332,"gradientThickness":18,"values":[0.5,98.8],"labelExpr":"datum.value>50?'0':'+'","labelFont":"DejaVu Sans","labelFontSize":17,"labelColor":"#0e5a6e","labelOffset":10}}}},
{"data":{"name":"p2"},"mark":{"type":"rect","width":19,"height":21,"clip":true,"xOffset":-4.5,"yOffset":-5,"opacity":0.5},"encoding":{"x":{"field":"x","type":"quantitative"},"y":{"field":"y","type":"quantitative"},"color":{"field":"v","type":"quantitative","legend":null}}},
{"data":{"name":"p2"},"mark":{"type":"rect","width":19,"height":21,"clip":true,"xOffset":4.5,"yOffset":-5,"opacity":0.33},"encoding":{"x":{"field":"x","type":"quantitative"},"y":{"field":"y","type":"quantitative"},"color":{"field":"v","type":"quantitative","legend":null}}},
{"data":{"name":"p2"},"mark":{"type":"rect","width":19,"height":21,"clip":true,"xOffset":-4.5,"yOffset":5,"opacity":0.25},"encoding":{"x":{"field":"x","type":"quantitative"},"y":{"field":"y","type":"quantitative"},"color":{"field":"v","type":"quantitative","legend":null}}},
{"data":{"name":"p2"},"mark":{"type":"rect","width":19,"height":21,"clip":true,"xOffset":4.5,"yOffset":5,"opacity":0.2},"encoding":{"x":{"field":"x","type":"quantitative"},"y":{"field":"y","type":"quantitative"},"color":{"field":"v","type":"quantitative","legend":null}}},
{"data":{"name":"t"},"mark":{"type":"rule","color":"#888","opacity":0.35},"encoding":{"x":{"field":"t","type":"quantitative"},"y":{"datum":100},"y2":{"datum":98.6}}},
{"data":{"name":"t"},"mark":{"type":"rule","color":"#888","opacity":0.35},"encoding":{"y":{"field":"t","type":"quantitative"},"x":{"datum":99},"x2":{"datum":100}}},
{"mark":{"type":"rule","strokeDash":[0.1,4.7],"strokeCap":"round","strokeWidth":3,"color":"#0b4f66"},"encoding":{"x":{"datum":-0.4},"y":{"datum":100},"y2":{"datum":-10.5}}},
{"mark":{"type":"rule","strokeDash":[0.1,4.7],"strokeCap":"round","strokeWidth":2.6,"color":"#0b4f66"},"encoding":{"x":{"datum":115},"y":{"datum":95},"y2":{"datum":7.5}}},
{"mark":{"type":"point","shape":"M-1,-.5L0,.5L1,-.5","filled":false,"size":196,"strokeDash":[0.1,4],"strokeCap":"round","strokeWidth":3,"color":"#0b4f66","opacity":1},"encoding":{"x":{"datum":115},"y":{"datum":6.5}}},
{"mark":{"type":"text","font":"DejaVu Sans","fontSize":17,"color":"#0e5a6e"},"encoding":{"x":{"datum":-3.7},"y":{"datum":-5.2},"text":{"value":"%"}}},
{"mark":{"type":"text","font":"DejaVu Sans","fontSize":17,"color":"#0e5a6e","angle":270,"lineHeight":19,"align":"center","baseline":"middle"},"encoding":{"x":{"datum":121.5},"y":{"datum":50},"text":{"value":["Change in Low-Risk, Transparency","Averse Individuals' Utility"]}}}
]},
{"width":453,"height":332,"data":{"values":[{"a":1}]},"layer":[
{"mark":{"type":"rect","color":"#f1ebe3"},"encoding":{"x":{"datum":-19.4},"x2":{"datum":132.9},"y":{"datum":109.3},"y2":{"datum":-21.7}}},
{"mark":{"type":"rect","color":"white"},"encoding":{"x":{"datum":0,"scale":{"domain":[0,100]},"axis":{"zindex":1,"values":[2.3,100],"labelExpr":"datum.value>50?'100':'0'","labelPadding":9,"title":"Fraction of High-Risk Individuals in the Market","titleFontSize":17.5,"titleY":46,"titleBaseline":"middle"}},"x2":{"datum":100},"y":{"datum":0,"scale":{"domain":[0,100]},"axis":{"zindex":1,"values":[1.5,100],"labelExpr":"datum.value>50?'100':'0'","domain":false,"labelPadding":9,"title":["Fraction of Transparency Averse","Low-Risk Individuals"],"titleX":-41,"titleLineHeight":18,"titleBaseline":"middle"}},"y2":{"datum":100}}},
{"data":{"name":"p3"},"mark":{"type":"rect","width":10,"clip":true},"encoding":{"x":{"field":"x","type":"quantitative"},"y":{"datum":0},"y2":{"datum":100},"color":{"field":"v","type":"quantitative","scale":{"domain":[0,10,20,30,41,50,62,74,87,100],"range":["#000000","#2a0000","#700000","#b51000","#ff2a00","#ff6400","#ffa500","#ffff00","#ffff9a","#ffffff"],"interpolate":"rgb"},"legend":{"orient":"none","legendX":488,"legendY":-1,"title":null,"direction":"vertical","gradientLength":332,"gradientThickness":18,"values":[0.6,99.6],"labelExpr":"datum.value>50?'+':'0'","labelFont":"DejaVu Sans","labelFontSize":17,"labelColor":"#0e5a6e","labelOffset":10}}}},
{"data":{"name":"p3"},"mark":{"type":"rect","width":10,"clip":true,"xOffset":4.5,"opacity":0.5},"encoding":{"x":{"field":"x","type":"quantitative"},"y":{"datum":0},"y2":{"datum":100},"color":{"field":"v","type":"quantitative","legend":null}}},
{"data":{"name":"t"},"mark":{"type":"rule","color":"#888","opacity":0.35},"encoding":{"x":{"field":"t","type":"quantitative"},"y":{"datum":100},"y2":{"datum":98.6}}},
{"data":{"name":"t"},"mark":{"type":"rule","color":"#888","opacity":0.35},"encoding":{"y":{"field":"t","type":"quantitative"},"x":{"datum":99},"x2":{"datum":100}}},
{"mark":{"type":"rule","strokeDash":[0.1,4.7],"strokeCap":"round","strokeWidth":3,"color":"#0b4f66"},"encoding":{"x":{"datum":-0.4},"y":{"datum":100},"y2":{"datum":-10.5}}},
{"mark":{"type":"rule","strokeDash":[0.1,4.7],"strokeCap":"round","strokeWidth":2.6,"color":"#0b4f66"},"encoding":{"x":{"datum":115},"y":{"datum":95},"y2":{"datum":10}}},
{"mark":{"type":"point","shape":"M-1,-.5L0,.5L1,-.5","filled":false,"size":196,"strokeDash":[0.1,4],"strokeCap":"round","strokeWidth":3,"color":"#0b4f66","opacity":1},"encoding":{"x":{"datum":115},"y":{"datum":9}}},
{"mark":{"type":"text","font":"DejaVu Sans","fontSize":17,"color":"#0e5a6e"},"encoding":{"x":{"datum":-3.7},"y":{"datum":-5.2},"text":{"value":"%"}}},
{"mark":{"type":"text","font":"DejaVu Sans","fontSize":17,"color":"#0e5a6e","angle":270,"lineHeight":19,"align":"center","baseline":"middle"},"encoding":{"x":{"datum":121.5},"y":{"datum":50},"text":{"value":["Change in Low-Risk, non-Transparency","Averse Individuals' Utility"]}}}
]},
{"width":453,"height":332,"data":{"values":[{"a":1}]},"layer":[
{"mark":{"type":"rect","color":"#f1ebe3"},"encoding":{"x":{"datum":-19.9},"x2":{"datum":132},"y":{"datum":109.3},"y2":{"datum":-21.7}}},
{"mark":{"type":"rect","color":"white"},"encoding":{"x":{"datum":0,"scale":{"domain":[0,100]},"axis":{"zindex":1,"values":[2.3,100],"labelExpr":"datum.value>50?'100':'0'","labelPadding":9,"title":"Fraction of High-Risk Individuals in the Market","titleFontSize":17.5,"titleY":46,"titleBaseline":"middle"}},"x2":{"datum":100},"y":{"datum":0,"scale":{"domain":[0,100]},"axis":{"zindex":1,"values":[1.5,100],"labelExpr":"datum.value>50?'100':'0'","domain":false,"labelPadding":9,"title":["Fraction of Transparency Averse","Low-Risk Individuals"],"titleX":-41,"titleLineHeight":18,"titleBaseline":"middle"}},"y2":{"datum":100}}},
{"data":{"name":"p4"},"mark":{"type":"rect","width":19,"height":21,"clip":true},"encoding":{"x":{"field":"x","type":"quantitative"},"y":{"field":"y","type":"quantitative"},"color":{"field":"v","type":"quantitative","scale":{"domain":[0,10,20,30,41,50,62,74,87,100],"range":["#000000","#2a0000","#700000","#b51000","#ff2a00","#ff6400","#ffa500","#ffff00","#ffff9a","#ffffff"],"interpolate":"rgb"},"legend":{"orient":"none","legendX":488,"legendY":-1,"title":null,"direction":"vertical","gradientLength":332,"gradientThickness":18,"values":[0.6,50,98.8],"labelExpr":"datum.value>60?'+':datum.value>40?'0':'-'","labelFont":"DejaVu Sans","labelFontSize":17,"labelColor":"#0e5a6e","labelOffset":10}}}},
{"data":{"name":"p4"},"mark":{"type":"rect","width":19,"height":21,"clip":true,"xOffset":-4.5,"yOffset":-5,"opacity":0.5},"encoding":{"x":{"field":"x","type":"quantitative"},"y":{"field":"y","type":"quantitative"},"color":{"field":"v","type":"quantitative","legend":null}}},
{"data":{"name":"p4"},"mark":{"type":"rect","width":19,"height":21,"clip":true,"xOffset":4.5,"yOffset":-5,"opacity":0.33},"encoding":{"x":{"field":"x","type":"quantitative"},"y":{"field":"y","type":"quantitative"},"color":{"field":"v","type":"quantitative","legend":null}}},
{"data":{"name":"p4"},"mark":{"type":"rect","width":19,"height":21,"clip":true,"xOffset":-4.5,"yOffset":5,"opacity":0.25},"encoding":{"x":{"field":"x","type":"quantitative"},"y":{"field":"y","type":"quantitative"},"color":{"field":"v","type":"quantitative","legend":null}}},
{"data":{"name":"p4"},"mark":{"type":"rect","width":19,"height":21,"clip":true,"xOffset":4.5,"yOffset":5,"opacity":0.2},"encoding":{"x":{"field":"x","type":"quantitative"},"y":{"field":"y","type":"quantitative"},"color":{"field":"v","type":"quantitative","legend":null}}},
{"data":{"name":"t"},"mark":{"type":"rule","color":"#888","opacity":0.35},"encoding":{"x":{"field":"t","type":"quantitative"},"y":{"datum":100},"y2":{"datum":98.6}}},
{"mark":{"type":"rule","strokeDash":[0.1,4.7],"strokeCap":"round","strokeWidth":3,"color":"#0b4f66"},"encoding":{"x":{"datum":-0.4},"y":{"datum":100},"y2":{"datum":-10.5}}},
{"mark":{"type":"rule","strokeDash":[0.1,4.7],"strokeCap":"round","strokeWidth":2.6,"color":"#0b4f66"},"encoding":{"x":{"datum":115},"y":{"datum":92},"y2":{"datum":54}}},
{"mark":{"type":"rule","strokeDash":[0.1,4.7],"strokeCap":"round","strokeWidth":2.6,"color":"#0b4f66"},"encoding":{"x":{"datum":115},"y":{"datum":46},"y2":{"datum":8}}},
{"mark":{"type":"point","shape":"M-1,-.5L0,.5L1,-.5","filled":false,"size":196,"strokeDash":[0.1,4],"strokeCap":"round","strokeWidth":3,"color":"#0b4f66","opacity":1},"encoding":{"x":{"datum":115},"y":{"datum":6.5}}},
{"mark":{"type":"point","shape":"M-1,.5L0,-.5L1,.5","filled":false,"size":196,"strokeDash":[0.1,4],"strokeCap":"round","strokeWidth":3,"color":"#0b4f66","opacity":1},"encoding":{"x":{"datum":115},"y":{"datum":92.5}}},
{"mark":{"type":"text","font":"DejaVu Sans","fontSize":17,"color":"#0e5a6e"},"encoding":{"x":{"datum":-3.7},"y":{"datum":-5.2},"text":{"value":"%"}}},
{"mark":{"type":"text","font":"DejaVu Sans","fontSize":17,"color":"#0e5a6e","angle":270,"lineHeight":19,"align":"center","baseline":"middle"},"encoding":{"x":{"datum":121.5},"y":{"datum":51},"text":{"value":"Change in Overall Consumer's Utility"}}}
]}
]}
